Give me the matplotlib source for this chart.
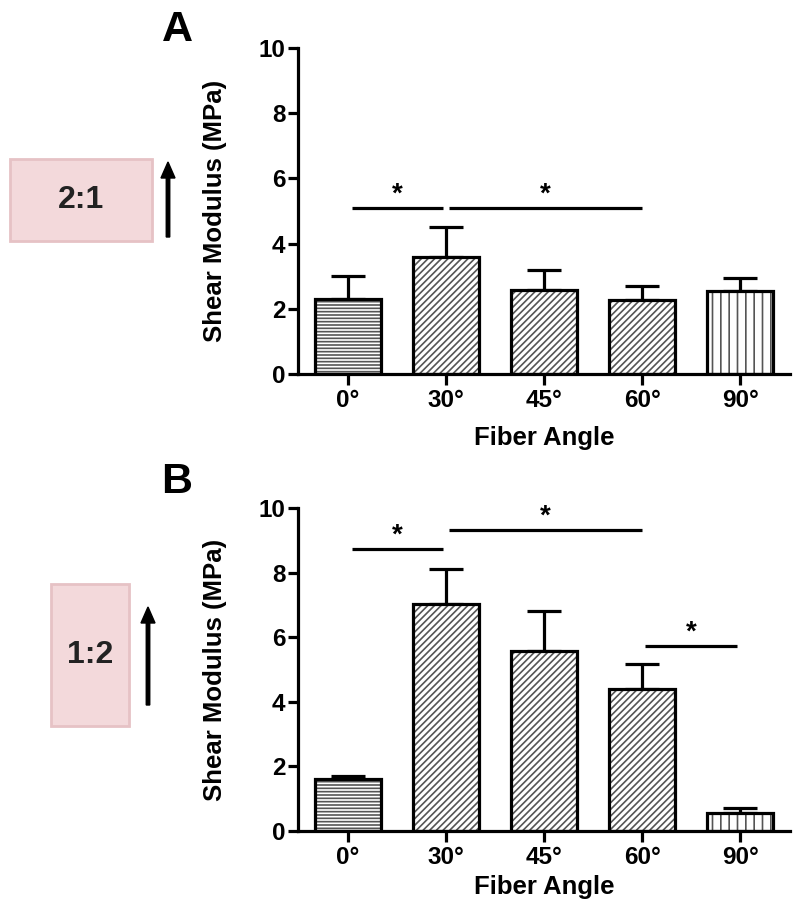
import matplotlib
matplotlib.use("Agg")
import matplotlib.pyplot as plt
from matplotlib.patches import Rectangle, FancyArrow
import numpy as np

plt.rcParams['font.family'] = ['Liberation Sans', 'DejaVu Sans']
plt.rcParams['font.weight'] = 'bold'
plt.rcParams['hatch.linewidth'] = 1.2

categories = ["0°", "30°", "45°", "60°", "90°"]
hatches = ["-----", "/////", "/////", "/////", "||"]

mean_A = [2.30, 3.59, 2.58, 2.27, 2.55]
err_A = [0.71, 0.92, 0.61, 0.43, 0.39]
mean_B = [1.61, 7.03, 5.57, 4.40, 0.56]
err_B = [0.09, 1.08, 1.24, 0.77, 0.15]

# significance brackets: (start category, end category, height)
sig_A = [(0.04, 0.97, 5.09), (1.03, 3.0, 5.09)]
sig_B = [(0.04, 0.97, 8.73), (1.03, 3.0, 9.32), (3.03, 3.97, 5.73)]

W, H = 800, 921
fig = plt.figure(figsize=(8, 9.21), dpi=100)

def fx(px):
    return px / W

def fy(py):
    return 1 - py / H

def panel(top_px, bot_px, means, errs, sigs, xlab_y):
    ax = fig.add_axes([fx(298), fy(bot_px), fx(790) - fx(298), (bot_px - top_px) / H])
    x = np.arange(len(categories))
    for i in range(len(categories)):
        ax.bar(x[i], means[i], width=0.67, color='white', edgecolor='#555555',
               linewidth=0, hatch=hatches[i], zorder=2)
    ax.bar(x, means, width=0.67, color='none', edgecolor='black', linewidth=2.3, zorder=3)
    ax.errorbar(x, means, yerr=[np.zeros(len(means)), errs], fmt='none',
                ecolor='black', elinewidth=2.3, capsize=12.5, capthick=2.3, zorder=1)
    for x0, x1, yv in sigs:
        ax.plot([x0, x1], [yv, yv], color='black', lw=2.3, solid_capstyle='butt')
        ax.text((x0 + x1) / 2, yv + 0.42, '*', ha='center', va='center',
                fontsize=20, fontweight='bold')
    ax.set_xlim(-0.51, 4.51)
    ax.set_ylim(0, 10)
    ax.set_yticks([0, 2, 4, 6, 8, 10])
    ax.set_xticks(x)
    ax.set_xticklabels(categories)
    for s in ['top', 'right']:
        ax.spines[s].set_visible(False)
    for s in ['left', 'bottom']:
        ax.spines[s].set_linewidth(2.3)
    ax.tick_params(axis='both', width=2.3, length=7, labelsize=17.5, pad=2)
    ax.tick_params(axis='x', length=8, pad=3)
    for lab in ax.get_xticklabels() + ax.get_yticklabels():
        lab.set_fontweight('bold')
    ax.set_ylabel('Shear Modulus (MPa)', fontsize=18.5, fontweight='bold', va='center')
    ax.set_xlabel('Fiber Angle', fontsize=18.5, fontweight='bold', va='center')
    ax.yaxis.set_label_coords((215 - 298) / 492, 0.5)
    ax.xaxis.set_label_coords(0.5, -xlab_y / (bot_px - top_px))
    ax.set_facecolor('none')
    return ax

axA = panel(48, 374, mean_A, err_A, sig_A, 64)
axB = panel(508, 831, mean_B, err_B, sig_B, 56)

# panel letters
fig.text(fx(177), fy(30), 'A', fontsize=31, fontweight='bold', ha='center', va='center')
fig.text(fx(177), fy(482), 'B', fontsize=31, fontweight='bold', ha='center', va='center')

# pink boxes
def box(x0, y0, x1, y1, label):
    r = Rectangle((fx(x0), fy(y1)), fx(x1) - fx(x0), (y1 - y0) / H,
                  facecolor='#f3d9db', edgecolor='#e6c2c5', linewidth=2,
                  transform=fig.transFigure)
    fig.add_artist(r)
    fig.text(fx((x0 + x1) / 2), fy((y0 + y1) / 2), label, fontsize=23,
             fontweight='bold', ha='center', va='center', color='#222222')

box(10, 159, 152, 241, '2:1')
box(51, 584, 129, 726, '1:2')

def arrow(xp, y_tail, y_head):
    fig.add_artist(FancyArrow(fx(xp), fy(y_tail), 0, (y_tail - y_head) / H,
                              width=4 / H, head_width=14 / W, head_length=16 / H,
                              length_includes_head=True, color='black',
                              transform=fig.transFigure))

arrow(168, 237, 162)
arrow(148, 705, 607)

fig.savefig('out.png', dpi=100)
